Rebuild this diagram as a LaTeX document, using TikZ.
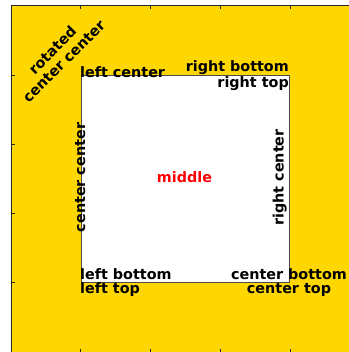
\documentclass[tikz,border=0pt]{standalone}
\usepackage{fontspec}
\setmainfont{DejaVu Sans}
\definecolor{axyellow}{RGB}{255,215,0}
\tikzset{
  lbl/.style={font=\bfseries\fontsize{14.35bp}{16bp}\selectfont, inner sep=0pt, text=black},
  spine/.style={line width=0.8bp, black!85},
  tick/.style={line width=0.8bp, black!85},
  frame/.style={draw=black!70, fill=white, line width=0.8bp, inner sep=0pt, minimum width=208bp, minimum height=207bp}
}
\begin{document}
\begin{tikzpicture}[x=1bp,y=-1bp]
\useasboundingbox (0,0) rectangle (349,352);
\fill[white] (0,0) rectangle (349,352);
\fill[axyellow] (11,5) rectangle (349,352);
\draw[spine] (11,352) -- (11,5) -- (349,5);
\foreach \x in {80,150,220,290} {
  \draw[tick] (\x,5) -- (\x,8.5);
  \draw[tick] (\x,352) -- (\x,348.5);
}
\foreach \y in {75,144,213,282} {
  \draw[tick] (11,\y) -- (14.5,\y);
}
\node[frame] (box) at (185,178.5) {};
\node[lbl, anchor=base west] (lc) at (80,77.5) {left center};
\node[lbl, anchor=base east] (rb) at (289,71.5) {right bottom};
\node[lbl, anchor=base east] (rt) at (289,87) {right top};
\node[lbl, anchor=base west] (lb) at (80,279) {left bottom};
\node[lbl, anchor=base west] (lt) at (80,293.5) {left top};
\node[lbl, anchor=base] (cb) at (289,279) {center bottom};
\node[lbl, anchor=base] (ct) at (289,293.5) {center top};
\node[lbl, anchor=base, rotate=90] (cc) at (85,177.5) {center center};
\node[lbl, anchor=base, rotate=90] (rc) at (283.5,177.5) {right center};
\node[lbl, text=red, anchor=base] (mid) at (184.5,182.3) {middle};
\node[lbl, align=center, rotate=45] (rot) at (58,55.6) {rotated\\center center};
\end{tikzpicture}
\end{document}
